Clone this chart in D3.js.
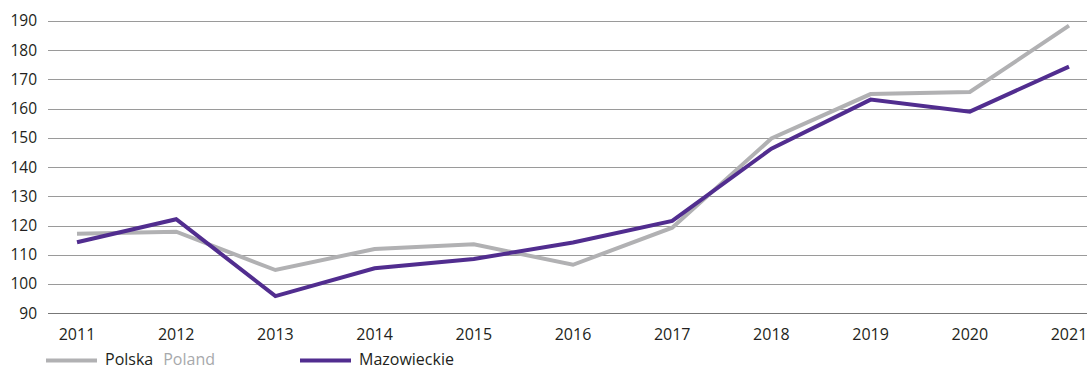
<!DOCTYPE html>
<html><head><meta charset="utf-8">
<script src="https://cdn.jsdelivr.net/npm/d3@7"></script>
<style>body{margin:0;background:#fff}svg{display:block;font-family:"Open Sans",sans-serif}</style>
</head><body><svg id="c" width="1087" height="369"></svg>
<script>
const years = [2011,2012,2013,2014,2015,2016,2017,2018,2019,2020,2021];
const polska = [117.2,117.9,104.8,112.0,113.6,106.6,119.3,149.8,165.0,165.7,188.4];
const mazowieckie = [114.3,122.2,95.9,105.4,108.6,114.2,121.6,146.3,163.1,159.0,174.4];
const yTicks = [90,100,110,120,130,140,150,160,170,180,190];
const seriesNames = [["Polska","Poland"],["Mazowieckie",""]];
const colors = ["#b1b1b3","#512d8f"];

const svg = d3.select("#c");
const x = d3.scalePoint().domain(years).range([77,1069]);
const y = d3.scaleLinear().domain([90,190]).range([313.3,21]);

svg.append("g").selectAll("line").data(yTicks).join("line")
  .attr("x1",48).attr("x2",1087)
  .attr("y1",d=>Math.round(y(d))+0.5).attr("y2",d=>Math.round(y(d))+0.5)
  .attr("stroke",d=>d===90?"#777":"#9a9a9a").attr("stroke-width",1);

svg.append("g").selectAll("text").data(yTicks).join("text")
  .attr("x",37).attr("y",d=>y(d)).attr("dy","0.35em").attr("text-anchor","end")
  .attr("font-size",15.5).attr("fill","#231f20").text(d=>d);

svg.append("g").selectAll("text").data(years).join("text")
  .attr("x",d=>x(d)).attr("y",340).attr("text-anchor","middle")
  .attr("font-size",16).attr("fill","#231f20").text(d=>d);

const line = d3.line().x((d,i)=>x(years[i])).y(d=>y(d));
[polska,mazowieckie].forEach((s,k)=>{
  svg.append("path").datum(s).attr("d",line).attr("fill","none")
    .attr("stroke",colors[k]).attr("stroke-width",4).attr("stroke-linejoin","miter");
});

// legend
const lg = svg.append("g");
const lx = [46,300];
seriesNames.forEach((n,k)=>{
  lg.append("line").attr("x1",lx[k]).attr("x2",lx[k]+51).attr("y1",360.5).attr("y2",360.5)
    .attr("stroke",colors[k]).attr("stroke-width",4);
  const t = lg.append("text").attr("x",lx[k]+59).attr("y",364.5).attr("font-size",16).attr("fill","#231f20");
  t.append("tspan").text(n[0]);
  if(n[1]) t.append("tspan").attr("dx",10).attr("fill","#a7a9ac").text(n[1]);
});
</script></body></html>
